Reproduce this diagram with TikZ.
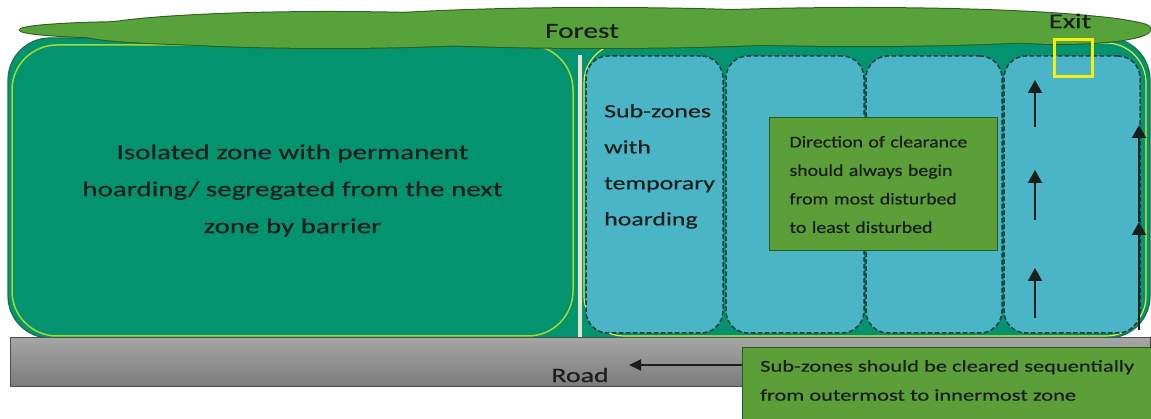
\documentclass[tikz,border=0pt]{standalone}
\usepackage{fontspec}
\setmainfont{Carlito}
\newfontfamily\widefont[FakeStretch=1.36,FakeBold=0.5]{Carlito}
\newfontfamily\midfont[FakeStretch=1.2,FakeBold=0.5]{Carlito}
\usetikzlibrary{arrows.meta}
\definecolor{zoneteal}{HTML}{03946F}
\definecolor{zoneedge}{HTML}{1F6E45}
\definecolor{limeedge}{HTML}{A6D92E}
\definecolor{yellowedge}{HTML}{E4EA3A}
\definecolor{subcyan}{HTML}{4AB5C6}
\definecolor{subedge}{HTML}{173A3E}
\definecolor{forestfill}{HTML}{58A23C}
\definecolor{forestedge}{HTML}{2E5E1E}
\definecolor{boxgreen}{HTML}{5C9E37}
\definecolor{boxedge}{HTML}{2B5A1D}
\definecolor{barrier}{HTML}{E6E2D6}
\definecolor{txt}{HTML}{1A1F1C}
\definecolor{exityellow}{HTML}{F2EE10}
\tikzset{
  subzone/.style={draw=subedge, fill=subcyan, dash pattern=on 4.5pt off 2.5pt, line width=1.5pt, rounded corners=22pt,
    minimum height=277pt, inner sep=0pt},
  notebox/.style={draw=boxedge, fill=boxgreen, line width=1pt, text=txt, align=left},
  upar/.style={draw=txt, line width=2pt, -{Triangle[width=14pt,length=13pt]}},
  cloudline/.style={draw=forestedge, line width=2pt},
  cloudfill/.style={fill=forestfill}
}
\begin{document}
\begin{tikzpicture}[x=1pt,y=-1pt]
\useasboundingbox (0,0) rectangle (1151,419);
% outer zone
\draw[fill=zoneteal, draw=zoneedge, line width=1.2pt, rounded corners=42pt] (8,38) rectangle (1150,338);
\draw[draw=yellowedge, line width=1.2pt, rounded corners=40pt] (584,43) rectangle (1146,336);
\node[draw=limeedge, line width=1.5pt, rounded corners=45pt, minimum width=561pt, minimum height=291pt,
  fill=zoneteal, text=txt, align=center, font=\widefont\fontsize{21.3}{37}\selectfont] (iso) at (292.5,190.5)
  {Isolated zone with permanent\\hoarding/ segregated from the next\\zone by barrier};
\fill[barrier] (578,55) rectangle (582,338);
% sub-zones
\node[subzone, minimum width=137pt] (s1) at (654.5,194.5) {};
\node[subzone, minimum width=138pt] (s2) at (795,194.5) {};
\node[subzone, minimum width=136pt] (s3) at (934,194.5) {};
\node[subzone, minimum width=136pt] (s4) at (1072,194.5) {};
\node[anchor=north west, align=left, text=txt, inner sep=0pt, font=\widefont\fontsize{19}{36}\selectfont] (s1t) at (604,104)
  {Sub-zones\\with\\temporary\\hoarding};
% forest cloud
\def\lobes{330/30/240/18, 600/28/300/20, 860/27/280/19, 1060/30/90/14, 1100/28/50/8, 140/30/120/8, 240/34/160/11}
\foreach \cx/\cy/\rx/\ry in \lobes {
  \draw[cloudline] (\cx,\cy) ellipse [x radius=\rx, y radius=\ry];
}
\foreach \cx/\cy/\rx/\ry in \lobes {
  \fill[cloudfill] (\cx,\cy) ellipse [x radius=\rx, y radius=\ry];
}
\node[text=txt, font=\widefont\fontsize{21.5}{24}\selectfont] (forest) at (582,31) {Forest};
\node[text=txt, font=\widefont\fontsize{21}{22}\selectfont] (exit) at (1070,21) {Exit};
\node[draw=exityellow, line width=3pt, minimum width=38pt, minimum height=37pt, inner sep=0pt] (exitbox) at (1073.5,58) {};
% clearance arrows
\coordinate (a1s) at (1035,127); \coordinate (a1e) at (1035,80);
\coordinate (a2s) at (1035,220); \coordinate (a2e) at (1035,170);
\coordinate (a3s) at (1035,318); \coordinate (a3e) at (1035,268);
\draw[upar] (a1s) -- (a1e);
\draw[upar] (a2s) -- (a2e);
\draw[upar] (a3s) -- (a3e);
\coordinate (r0) at (1139,330); \coordinate (r1) at (1139,222); \coordinate (r2) at (1139,125);
\draw[upar] (r0) -- (r1);
\draw[upar] (r1) -- (r2);
% direction box
\node[notebox, minimum width=228pt, minimum height=133pt, text width=205pt, inner xsep=11.5pt,
  font=\midfont\fontsize{16.5}{28.5}\selectfont] (dir) at (883,184.5)
  {\hspace*{9pt}Direction of clearance\\\hspace*{9pt}should always begin\\\hspace*{9pt}from most disturbed\\\hspace*{9pt}to least disturbed};
% road
\draw[draw=black!70, line width=1pt, top color=black!35, bottom color=black!52] (10,338) rectangle (1150,387);
\node[text=txt, font=\widefont\fontsize{20.5}{24}\selectfont] (road) at (580,375) {Road};
% bottom note
\draw[draw=boxedge, fill=boxgreen, line width=1pt] (742,348) rectangle (1160,430);
\node[anchor=north west, align=left, text=txt, inner sep=0pt, font=\widefont\fontsize{16.5}{29}\selectfont] (seq) at (760,360)
  {Sub-zones should be cleared sequentially\\from outermost to innermost zone};
\coordinate (rs) at (742,365); \coordinate (re) at (629,365);
\draw[draw=txt, line width=1.8pt, -{Triangle[width=11pt,length=12pt]}] (rs) -- (re);
\end{tikzpicture}
\end{document}
